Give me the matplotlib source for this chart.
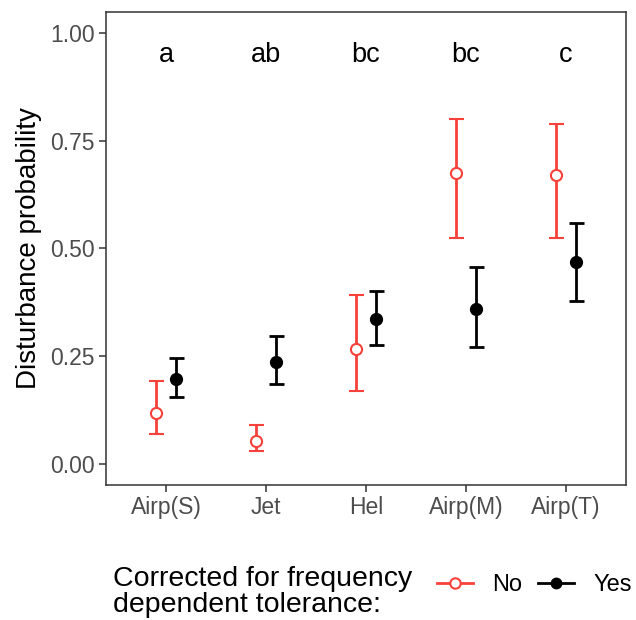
import matplotlib
matplotlib.use("Agg")
import matplotlib.pyplot as plt
from matplotlib.lines import Line2D
import numpy as np

plt.rcParams['font.family'] = ['Liberation Sans', 'DejaVu Sans']

categories = ["Airp(S)", "Jet", "Hel", "Airp(M)", "Airp(T)"]
letters = ["a", "ab", "bc", "bc", "c"]
no_mean = [0.118, 0.052, 0.267, 0.676, 0.670]
no_low = [0.070, 0.030, 0.170, 0.524, 0.524]
no_high = [0.193, 0.090, 0.393, 0.800, 0.790]
yes_mean = [0.196, 0.237, 0.336, 0.359, 0.468]
yes_low = [0.155, 0.186, 0.276, 0.271, 0.379]
yes_high = [0.245, 0.297, 0.402, 0.458, 0.560]

red = "#F8413A"
fig = plt.figure(figsize=(6.36, 6.2), dpi=100)
ax = fig.add_axes([106/636, 1-485/620, 520/636, 473/620])

x = np.arange(1, len(categories)+1)
dodge = 0.1
no_mean_a = np.array(no_mean); yes_mean_a = np.array(yes_mean)
ax.errorbar(x - dodge, no_mean_a,
            yerr=[no_mean_a - np.array(no_low), np.array(no_high) - no_mean_a],
            fmt='o', color=red, mfc='white', mec=red, mew=1.5, ms=8,
            elinewidth=2, capsize=5.4, capthick=2, zorder=3)
ax.errorbar(x + dodge, yes_mean_a,
            yerr=[yes_mean_a - np.array(yes_low), np.array(yes_high) - yes_mean_a],
            fmt='o', color='black', mfc='black', mec='black', ms=8.5,
            elinewidth=2, capsize=5.4, capthick=2, zorder=3)

for xi, lab in zip(x, letters):
    ax.text(xi, 0.95, lab, ha='center', va='center', fontsize=19.5, color='black')

ax.set_xlim(0.4, 5.6)
ax.set_ylim(-0.049, 1.049)
ax.set_xticks(x)
ax.set_xticklabels(categories)
ax.set_yticks([0, 0.25, 0.5, 0.75, 1.0])
ax.set_yticklabels(["0.00", "0.25", "0.50", "0.75", "1.00"])
ax.tick_params(axis='both', colors='#333333', labelcolor='#4D4D4D', labelsize=16.5,
               length=5, width=1.1, pad=3)
for s in ax.spines.values():
    s.set_color('#333333')
    s.set_linewidth(1.1)
ax.set_ylabel("Disturbance probability", fontsize=20, color='black', labelpad=6)

fig.text(113/636, 1-592/620, "Corrected for frequency\ndependent tolerance:",
         fontsize=20.5, ha='left', va='center', linespacing=0.97)

handles = [Line2D([], [], color=red, lw=2, marker='o', mfc='white', mec=red, mew=1.5, ms=7.5),
           Line2D([], [], color='black', lw=2, marker='o', mfc='black', mec='black', ms=7.5)]
fig.legend(handles, ["No", "Yes"], ncol=2, frameon=False, fontsize=17,
           loc='center left', bbox_to_anchor=(437/636, 1-585/620),
           handlelength=1.52, handletextpad=0.8, columnspacing=0.7,
           borderpad=0, borderaxespad=0)

fig.savefig("out.png", dpi=100)
